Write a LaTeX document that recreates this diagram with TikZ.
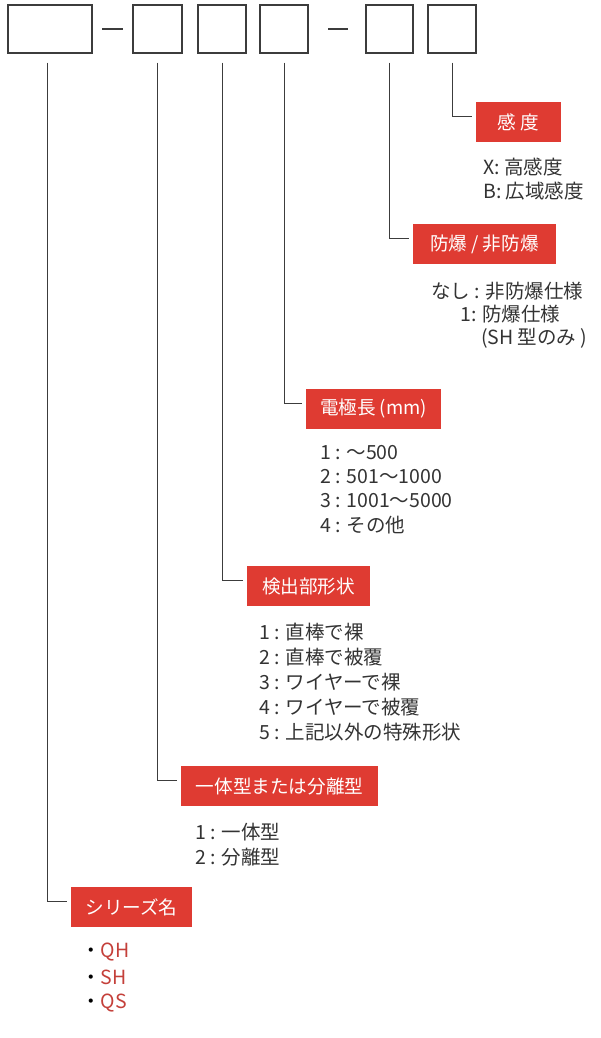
\documentclass[tikz,border=0pt]{standalone}
\usepackage{fontspec}
\setmainfont{Noto Sans CJK JP}
\newfontfamily\listfont{Noto Sans CJK JP}
\newfontfamily\tagfont{Noto Sans CJK JP}
\definecolor{boxred}{RGB}{223,59,50}
\definecolor{linegray}{RGB}{60,60,60}
\definecolor{txtgray}{RGB}{51,51,51}
\definecolor{codered}{RGB}{196,64,58}

\begin{document}
\begin{tikzpicture}[x=1pt, y=-1pt,
  slot/.style={draw=linegray, line width=1.4pt, inner sep=0pt, minimum height=48pt},
  tag/.style={fill=boxred, text=white, inner sep=0pt, minimum height=40pt, font=\fontsize{18.6}{18.6}\tagfont},
  item/.style={anchor=west, inner sep=0pt, text=txtgray, font=\fontsize{19.5}{19.5}\listfont},
  conn/.style={draw=linegray, line width=1pt, shorten <=9pt, shorten >=4pt},
  hyphen/.style={draw=linegray, line width=1.4pt}]
  \useasboundingbox (0,0) rectangle (600,1038);
  %% code boxes
  \node[slot, minimum width=84pt] (seriesbox) at (50,29) {};
  \draw[hyphen] (102,29) -- (123,29);
  \node[slot, minimum width=49pt] (typebox) at (157.5,29) {};
  \node[slot, minimum width=48pt] (shapebox) at (222,29) {};
  \node[slot, minimum width=48pt] (lengthbox) at (284,29) {};
  \draw[hyphen] (328,29) -- (348,29);
  \node[slot, minimum width=47pt] (exbox) at (389.5,29) {};
  \node[slot, minimum width=48pt] (sensbox) at (452,29) {};

  %% sensitivity
  \node[tag, minimum width=85pt] (senstag) at (518.5,122) {感\hspace{4pt}度};
  \node[item] (sensx) at (483,167) {X: 高感度};
  \node[item] (sensb) at (483,191) {B: 広域感度};

  %% explosion proof
  \node[tag, minimum width=143pt] (extag) at (484.5,244) {防爆 / 非防爆};
  \node[item] (exnone) at (431,291) {なし : 非防爆仕様};
  \node[item] (exone) at (460,314) {1: 防爆仕様};
  \node[item] (exnote) at (481,338) {(SH 型のみ )};

  %% electrode length
  \node[tag, minimum width=135pt] (lengthtag) at (373.5,408.5) {電極長 (mm)};
  \node[item] (len1) at (320,453) {1 : ～500};
  \node[item] (len2) at (320,477) {2 : 501～1000};
  \node[item] (len3) at (320,501) {3 : 1001～5000};
  \node[item] (len4) at (320,525) {4 : その他};

  %% detector shape
  \node[tag, minimum width=123pt] (shapetag) at (308.5,586) {検出部形状};
  \node[item] (shape1) at (259,632) {1 : 直棒で裸};
  \node[item] (shape2) at (259,657) {2 : 直棒で被覆};
  \node[item] (shape3) at (259,682) {3 : ワイヤーで裸};
  \node[item] (shape4) at (259,707) {4 : ワイヤーで被覆};
  \node[item] (shape5) at (259,732) {5 : 上記以外の特殊形状};

  %% integral / separate
  \node[tag, minimum width=197pt] (typetag) at (279.5,786) {一体型または分離型};
  \node[item] (type1) at (195,832) {1 : 一体型};
  \node[item] (type2) at (195,857) {2 : 分離型};

  %% series name
  \node[tag, minimum width=121pt] (seriestag) at (131.5,907) {シリーズ名};
  \node[item, text=codered] (qh) at (81,952) {\textcolor{black}{・}QH};
  \node[item, text=codered] (sh) at (81,977) {\textcolor{black}{・}SH};
  \node[item, text=codered] (qs) at (81,1003) {\textcolor{black}{・}QS};

  %% leaders
  \draw[conn] ([xshift=-3pt]seriesbox.south) |- ([yshift=5.5pt]seriestag.west);
  \draw[conn] (typebox.south) |- ([yshift=5.5pt]typetag.west);
  \draw[conn] (shapebox.south) |- ([yshift=5.5pt]shapetag.west);
  \draw[conn] (lengthbox.south) |- ([yshift=5.5pt]lengthtag.west);
  \draw[conn] (exbox.south) |- ([yshift=5.5pt]extag.west);
  \draw[conn] (sensbox.south) |- ([yshift=5.5pt]senstag.west);
\end{tikzpicture}
\end{document}
